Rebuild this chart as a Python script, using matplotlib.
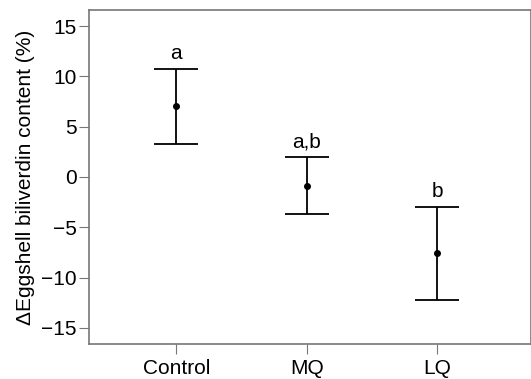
import matplotlib
matplotlib.use("Agg")
import matplotlib.pyplot as plt

plt.rcParams['font.family'] = ['Liberation Sans', 'DejaVu Sans']

groups = ["Control", "MQ", "LQ"]
means = [7.03, -0.86, -7.58]
upper = [10.74, 1.96, -2.95]
lower = [3.31, -3.68, -12.26]
letters = ["a", "a,b", "b"]

fig = plt.figure(figsize=(5.31, 3.79), dpi=100)
ax = fig.add_axes([89 / 531, 35 / 379, 442 / 531, 334 / 379])

x = list(range(len(groups)))
err_lo = [m - l for m, l in zip(means, lower)]
err_hi = [u - m for m, u in zip(means, upper)]
ax.errorbar(x, means, yerr=[err_lo, err_hi], fmt='o', color='black',
            markersize=4, elinewidth=1.3, capsize=16, capthick=1.3)

for xi, u, lab in zip(x, upper, letters):
    ax.text(xi, u + 0.6, lab, ha='center', va='bottom', fontsize=15)

ax.set_xlim(-0.67, 2.72)
ax.set_ylim(-16.6, 16.6)
ax.set_xticks(x)
ax.set_xticklabels(groups)
ax.set_yticks([15, 10, 5, 0, -5, -10, -15])
ax.set_yticklabels(["15", "10", "5", "0", "\u22125", "\u221210", "\u221215"])
ax.set_ylabel("\u0394Eggshell biliverdin content (%)", fontsize=15, labelpad=4)
ax.tick_params(labelsize=15, direction='out', length=7, pad=2, color='#777777')
ax.tick_params(axis='x', pad=4)
for sp in ax.spines.values():
    sp.set_color('#777777')
    sp.set_linewidth(1.2)

fig.savefig("out.png", dpi=100)
